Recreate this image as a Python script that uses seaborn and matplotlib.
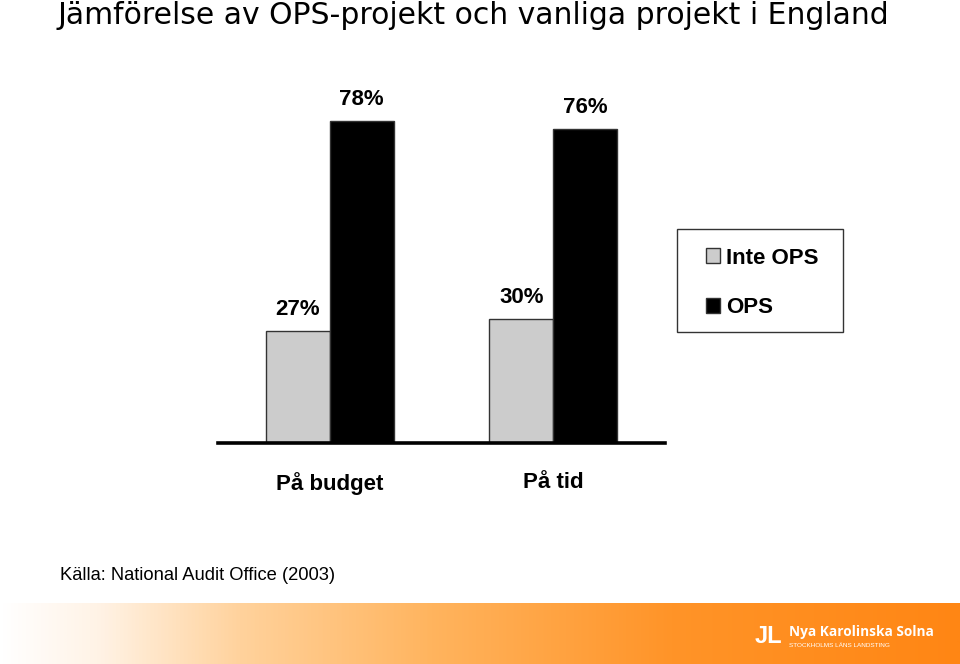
import numpy as np
import pandas as pd
import matplotlib
matplotlib.use("Agg")
import matplotlib.pyplot as plt
from matplotlib.colors import LinearSegmentedColormap
from matplotlib.patches import Patch, Rectangle
import seaborn as sns

categories = ["På budget", "På tid"]
series = ["Inte OPS", "OPS"]
inte_ops = [27, 30]
ops = [78, 76]

title = "Jämförelse av OPS-projekt och vanliga projekt i England"
source = "Källa: National Audit Office (2003)"

df = pd.DataFrame({
    "kategori": categories * 2,
    "grupp": [series[0]] * len(categories) + [series[1]] * len(categories),
    "varde": inte_ops + ops,
})

sns.set_theme(style="white")
plt.rcParams["font.family"] = ["Liberation Sans", "DejaVu Sans"]

fig = plt.figure(figsize=(9.6, 6.64), dpi=100)
fig.patch.set_facecolor("white")

# footer gradient band
bg = fig.add_axes([0, 0, 1, 61 / 664])
grad_cmap = LinearSegmentedColormap.from_list(
    "g", [(0, "#ffffff"), (0.1, "#fff3e6"), (0.25, "#ffd29c"), (0.45, "#ffb45e"),
          (0.7, "#ff9428"), (1.0, "#ff8614")])
bg.imshow(np.linspace(0, 1, 512)[None, :], aspect="auto", cmap=grad_cmap,
          extent=[0, 1, 0, 1])
bg.set_xlim(0, 1)
bg.set_ylim(0, 1)
bg.axis("off")
bg.text(0.822, 0.52, "Nya Karolinska Solna", color="white", fontsize=9.8,
        fontweight="bold", va="center", ha="left", family=["Open Sans", "DejaVu Sans"])
bg.text(0.822, 0.30, "STOCKHOLMS LÄNS LANDSTING", color="white", fontsize=4.6,
        va="center", ha="left")
bg.text(0.800, 0.45, "JL", color="white", fontsize=17, fontweight="bold",
        va="center", ha="center")

ax = fig.add_axes([218 / 960, 1 - 443 / 664, 447 / 960, 363 / 664])
sns.barplot(data=df, x="kategori", y="varde", hue="grupp", hue_order=series,
            palette=["#cccccc", "#000000"], width=0.5714, gap=0,
            edgecolor="#333333", linewidth=1, saturation=1, ax=ax, legend=False)
ax.set_xlim(-0.5, 1.5)
ax.set_ylim(0, 87.9)
for s in ["top", "right", "left"]:
    ax.spines[s].set_visible(False)
ax.spines["bottom"].set_linewidth(2.6)
ax.spines["bottom"].set_color("black")
ax.set_yticks([])
ax.set_xlabel("")
ax.set_ylabel("")
ax.tick_params(axis="x", length=0, pad=21)
for lbl in ax.get_xticklabels():
    lbl.set_fontsize(16)
    lbl.set_fontweight("bold")
    lbl.set_color("black")

for cont in ax.containers:
    for bar in cont:
        h = bar.get_height()
        ax.annotate(f"{h:.0f}%", (bar.get_x() + bar.get_width() / 2, h),
                    xytext=(0, 8), textcoords="offset points", ha="center",
                    va="bottom", fontsize=16, fontweight="bold", color="black")

# legend
handles = [Patch(facecolor="#cccccc", edgecolor="#333333", label=series[0]),
           Patch(facecolor="#000000", edgecolor="#333333", label=series[1])]
leg = fig.legend(handles=handles, loc="center left",
                 bbox_to_anchor=(706 / 960, 1 - 283 / 664), frameon=False,
                 prop={"weight": "bold", "size": 16}, handlelength=0.65,
                 handleheight=0.65, handletextpad=0.25, labelspacing=1.3,
                 borderpad=0, borderaxespad=0, labelcolor="black")
fig.patches.append(Rectangle((677 / 960, 1 - 332 / 664), 166 / 960, 103 / 664,
                             transform=fig.transFigure, facecolor="none",
                             edgecolor="#333333", linewidth=1))

fig.text(57 / 960, 1 - 15 / 664, title, fontsize=21.5, ha="left", va="center",
         family=["DejaVu Sans"], color="black")
fig.text(60 / 960, 1 - 575 / 664, source, fontsize=13.2, ha="left", va="center",
         color="black")

fig.savefig("out.png", dpi=100)
